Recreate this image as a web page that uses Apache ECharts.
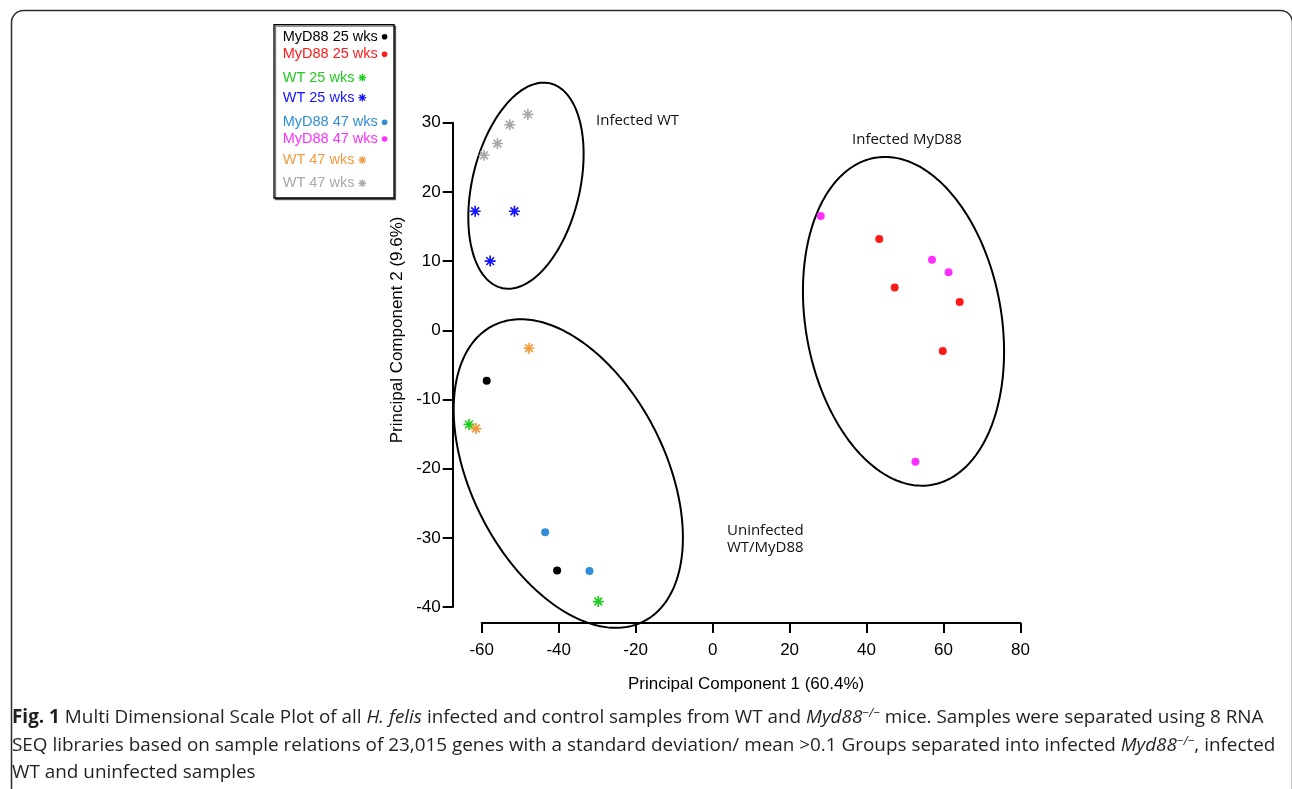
<!DOCTYPE html>
<html>
<head>
<meta charset="utf-8">
<script src="https://cdn.jsdelivr.net/npm/echarts@6/dist/echarts.min.js"></script>
<style>
  html, body { margin: 0; padding: 0; background: #fff; }
  #chart { width: 1292px; height: 789px; }
</style>
</head>
<body>
<div id="chart"></div>
<script>
// Sample groups, in legend order
const groupNames = [
  'MyD88 25 wks uninfected', 'MyD88 25 wks infected',
  'WT 25 wks uninfected', 'WT 25 wks infected',
  'MyD88 47 wks uninfected', 'MyD88 47 wks infected',
  'WT 47 wks uninfected', 'WT 47 wks infected'
];
const groupLabels = [
  'MyD88 25 wks', 'MyD88 25 wks', 'WT 25 wks', 'WT 25 wks',
  'MyD88 47 wks', 'MyD88 47 wks', 'WT 47 wks', 'WT 47 wks'
];
const groupColors = ['#000000', '#ff1a1a', '#1fcc1f', '#1414ff', '#2f8ed6', '#ff30ff', '#f29b3d', '#a8a8a8'];
const groupShapes = ['dot', 'dot', 'star', 'star', 'dot', 'dot', 'star', 'star'];

// [PC1, PC2] per sample
const myd88_25_uninf = [[-58.7, -7.3], [-40.4, -34.7]];
const myd88_25_inf   = [[43.3, 13.2], [47.3, 6.2], [64.2, 4.1], [59.8, -3.0]];
const wt_25_uninf    = [[-63.3, -13.6], [-29.7, -39.2]];
const wt_25_inf      = [[-61.7, 17.2], [-51.5, 17.2], [-57.8, 10.0]];
const myd88_47_uninf = [[-43.5, -29.2], [-32.0, -34.8]];
const myd88_47_inf   = [[28.1, 16.5], [57.0, 10.2], [61.3, 8.4], [52.7, -19.0]];
const wt_47_uninf    = [[-47.7, -2.6], [-61.5, -14.2]];
const wt_47_inf      = [[-59.4, 25.3], [-55.9, 27.0], [-52.7, 29.7], [-48.0, 31.2]];
const groupData = [myd88_25_uninf, myd88_25_inf, wt_25_uninf, wt_25_inf,
                   myd88_47_uninf, myd88_47_inf, wt_47_uninf, wt_47_inf];

// Cluster outlines: [centre PC1, centre PC2, u1, u2, v1, v2] with u, v conjugate semi-axes
const ellipseInfectedWT    = [-48.5, 20.9, 6.28, 14.78, 13.6, -1.79];
const ellipseUninfected    = [-37.5, -20.7, -19.58, 21.37, 22.44, 6.36];
const ellipseInfectedMyD88 = [49.6, 1.3, -7.40, 23.63, 25.06, 2.43];

// Axis ticks
const xTicks = { min: -60, max: 80, step: 20 };
const yTicks = { min: -40, max: 30, step: 10 };

// Eight-ray asterisk marker
const STAR = 'path://M0 8.5H20V11.5H0Z M8.5 0H11.5V20H8.5Z ' +
  'M3.99 1.87L18.13 16.01L16.01 18.13L1.87 3.99Z ' +
  'M1.87 16.01L16.01 1.87L18.13 3.99L3.99 18.13Z';

const AXIS_FONT = '"Liberation Sans", Arial, Helvetica, sans-serif';
const NOTE_FONT = '"Open Sans", sans-serif';
const CAPTION_SIZE = 18.9;

const chart = echarts.init(document.getElementById('chart'), null, { renderer: 'canvas' });

const scatterSeries = groupNames.map((name, i) => ({
  type: 'scatter',
  name: name,
  data: groupData[i],
  symbol: groupShapes[i] === 'star' ? STAR : 'circle',
  symbolSize: groupShapes[i] === 'star' ? 11 : 8,
  itemStyle: { color: groupColors[i], opacity: 1 },
  clip: false,
  silent: true,
  z: 4
}));

const ellipseSeries = {
  type: 'custom',
  name: 'clusters',
  data: [ellipseInfectedWT, ellipseUninfected, ellipseInfectedMyD88],
  encode: { x: 0, y: 1 },
  clip: false,
  silent: true,
  z: 3,
  renderItem: function (params, api) {
    const cx = api.value(0), cy = api.value(1);
    const ux = api.value(2), uy = api.value(3), vx = api.value(4), vy = api.value(5);
    const pts = [];
    const n = 240;
    for (let k = 0; k < n; k++) {
      const t = k / n * Math.PI * 2;
      pts.push(api.coord([cx + ux * Math.cos(t) + vx * Math.sin(t),
                          cy + uy * Math.cos(t) + vy * Math.sin(t)]));
    }
    return {
      type: 'polygon',
      shape: { points: pts },
      style: { fill: 'none', stroke: '#000', lineWidth: 2 }
    };
  }
};

// Boxed key: label first, then its marker right after the text
function buildKey() {
  const fontSize = 14.5;
  const rows = [12, 29.6, 53, 73, 97.6, 114.3, 135.3, 158.6];
  const measure = document.createElement('canvas').getContext('2d');
  measure.font = fontSize + 'px ' + AXIS_FONT;
  const children = [{
    type: 'rect', shape: { x: 0, y: 0, width: 120, height: 173.3 },
    style: { fill: '#fff', stroke: '#000', lineWidth: 1.3,
             shadowColor: 'rgba(0,0,0,0.55)', shadowOffsetX: 1.5, shadowOffsetY: 1.5, shadowBlur: 0 }
  }];
  groupLabels.forEach(function (label, i) {
    const y = rows[i];
    const color = groupColors[i];
    children.push({
      type: 'text', x: 8.7, y: y,
      style: { text: label, fill: color, fontFamily: AXIS_FONT, fontSize: fontSize, verticalAlign: 'middle', align: 'left' }
    });
    const tw = measure.measureText(label).width;
    if (groupShapes[i] === 'dot') {
      const r = 2.8;
      children.push({ type: 'circle', shape: { cx: 8.7 + tw + 4 + r, cy: y, r: r }, style: { fill: color } });
    } else {
      const r = 3.9, cx = 8.7 + tw + 4 + r, d = r * Math.SQRT1_2;
      [[-r, 0, r, 0], [0, -r, 0, r], [-d, -d, d, d], [-d, d, d, -d]].forEach(function (s) {
        children.push({
          type: 'line', shape: { x1: cx + s[0], y1: y + s[1], x2: cx + s[2], y2: y + s[3] },
          style: { stroke: color, lineWidth: 1.3 }
        });
      });
    }
  });
  return { type: 'group', x: 274, y: 24.7, silent: true, children: children };
}

const axisCommon = {
  type: 'value',
  axisLine: { show: true, onZero: false, lineStyle: { color: '#000', width: 2 } },
  axisTick: { show: true, inside: false, length: 10, lineStyle: { color: '#000', width: 2 } },
  splitLine: { show: false },
  nameLocation: 'middle'
};

const captionRich = {
  b: { fontFamily: NOTE_FONT, fontSize: CAPTION_SIZE, fontWeight: 'bold', fill: '#231f20' },
  i: { fontFamily: NOTE_FONT, fontSize: CAPTION_SIZE, fontStyle: 'italic', fill: '#231f20' },
  sup: { fontFamily: NOTE_FONT, fontSize: 12, fontStyle: 'italic', fill: '#231f20', verticalAlign: 'top', padding: [0, 0, 9, 0] }
};
function captionLine(text, y) {
  return {
    type: 'text', x: 12, y: y, silent: true,
    style: { text: text, rich: captionRich, fontFamily: NOTE_FONT, fontSize: CAPTION_SIZE,
             fill: '#231f20', verticalAlign: 'middle' }
  };
}
function note(text, x, y) {
  return {
    type: 'text', x: x, y: y, silent: true,
    style: { text: text, fontFamily: NOTE_FONT, fontSize: 15, fill: '#111', lineHeight: 16.6, verticalAlign: 'middle' }
  };
}

chart.setOption({
  animation: false,
  backgroundColor: '#fff',
  grid: { left: 481.7, right: 271.5, top: 122.7, bottom: 181.9, containLabel: false },
  xAxis: Object.assign({}, axisCommon, {
    min: xTicks.min, max: xTicks.max, interval: xTicks.step, offset: 16,
    axisLabel: { color: '#000', fontSize: 17, fontFamily: AXIS_FONT, margin: 19 },
    name: 'Principal Component 1 (60.4%)', nameGap: 53,
    nameTextStyle: { color: '#000', fontSize: 17, fontFamily: AXIS_FONT, padding: [0, 10, 0, 0] }
  }),
  yAxis: Object.assign({}, axisCommon, {
    min: yTicks.min, max: yTicks.max, interval: yTicks.step, offset: 29,
    axisLabel: { color: '#000', fontSize: 17, fontFamily: AXIS_FONT, margin: 12 },
    name: 'Principal Component 2 (9.6%)', nameGap: 47,
    nameTextStyle: { color: '#000', fontSize: 17, fontFamily: AXIS_FONT, padding: [0, 0, 0, 70] }
  }),
  graphic: [
    { type: 'rect', left: 9, top: 8, silent: true,
      shape: { width: 1281, height: 820, r: 12 },
      style: { fill: 'none', stroke: '#2b2b2b', lineWidth: 1.5 } },
    buildKey(),
    note('Infected WT', 596, 120.5),
    note('Infected MyD88', 852, 140),
    note('Uninfected\nWT/MyD88', 727, 539),
    captionLine('{b|Fig. 1} Multi Dimensional Scale Plot of all {i|H. felis} infected and control samples from WT and {i|Myd88}{sup|\u2212/\u2212} mice. Samples were separated using 8 RNA', 718),
    captionLine('SEQ libraries based on sample relations of 23,015 genes with a standard deviation/ mean >0.1 Groups separated into infected {i|Myd88}{sup|\u2212/\u2212}, infected', 746),
    captionLine('WT and uninfected samples', 773)
  ],
  series: [ellipseSeries].concat(scatterSeries)
});
</script>
</body>
</html>
